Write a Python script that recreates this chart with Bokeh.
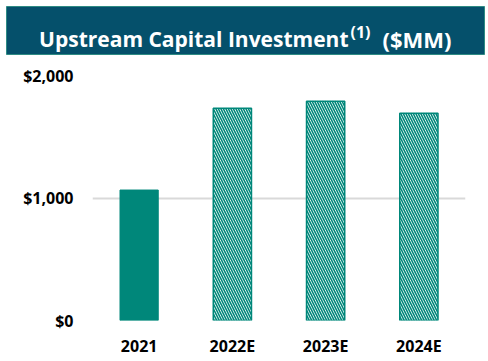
from bokeh.plotting import figure
from bokeh.layouts import column
from bokeh.models import ColumnDataSource, FixedTicker, NumeralTickFormatter
from bokeh.core.properties import value
from bokeh.embed import file_html
from bokeh.resources import INLINE

categories = ["2021", "2022E", "2023E", "2024E"]
values = [1065, 1732, 1789, 1691]
is_estimate = [False, True, True, True]
y_ticks = [0, 1000, 2000]
title_main = "Upstream Capital Investment"
title_note = "(1)"
title_unit = "($MM)"

TEAL = "#00877A"
NAVY = "#05506B"
FONT = "Open Sans"
W = 486

# ---- title strip (frame = whole canvas, 1 data unit = 1 px) ----
TH = 56
tp = figure(width=W, height=TH, x_range=(0, W), y_range=(TH, 0),
            output_backend="svg", toolbar_location=None,
            min_border=0, min_border_left=0, min_border_right=0,
            min_border_top=0, min_border_bottom=0)
tp.axis.visible = False
tp.grid.visible = False
tp.outline_line_color = None
tp.background_fill_color = "white"
tp.border_fill_color = "white"
tp.quad(left=[6], right=[484], top=[6], bottom=[54], fill_color=NAVY,
        line_color="#2E8B84", line_width=1)
tp.text(x=[348], y=[38], text=[title_main],
        text_font=value(FONT), text_font_style="bold", text_font_size="21px",
        text_color="white", text_baseline="alphabetic", text_align="right")
tp.text(x=[350], y=[31], text=[title_note],
        text_font=value(FONT), text_font_style="bold", text_font_size="16px",
        text_color="white", text_baseline="alphabetic", text_align="left")
tp.text(x=[382], y=[38], text=[title_unit],
        text_font=value(FONT), text_font_style="bold", text_font_size="22px",
        text_color="white", text_baseline="alphabetic", text_align="left")

# ---- chart ----
act = ColumnDataSource(dict(
    x=[c for c, e in zip(categories, is_estimate) if not e],
    top=[v for v, e in zip(values, is_estimate) if not e]))
est = ColumnDataSource(dict(
    x=[c for c, e in zip(categories, is_estimate) if e],
    top=[v for v, e in zip(values, is_estimate) if e]))

p = figure(x_range=categories, y_range=(0, 2000), width=W, height=303,
           output_backend="svg", toolbar_location=None,
           min_border_left=92, min_border_right=21,
           min_border_top=19, min_border_bottom=38)
p.outline_line_color = None

p.vbar(x="x", top="top", width=0.41, source=act, fill_color=TEAL,
       line_color=TEAL, line_width=1)
p.vbar(x="x", top="top", width=0.41, source=est, fill_color="white",
       hatch_pattern="\\", hatch_color=TEAL, hatch_scale=5, hatch_weight=1.6,
       line_color=TEAL, line_width=1.5)

p.xgrid.grid_line_color = None
p.ygrid.grid_line_color = "#D9D9D9"
p.ygrid.grid_line_width = 2
p.yaxis.ticker = FixedTicker(ticks=y_ticks)
p.yaxis.formatter = NumeralTickFormatter(format="$0,0")

for ax in (p.xaxis[0], p.yaxis[0]):
    ax.axis_line_color = None
    ax.major_tick_line_color = None
    ax.minor_tick_line_color = None
    ax.major_tick_out = 0
    ax.major_tick_in = 0
    ax.major_label_text_font = FONT
    ax.major_label_text_font_style = "bold"
    ax.major_label_text_font_size = "16px"
    ax.major_label_text_color = "black"
p.yaxis.major_label_standoff = 19
p.xaxis.major_label_standoff = 14

for f in (tp, p):
    if "frame_align" in f.properties():
        f.frame_align = False

layout = column(tp, p, spacing=0)
open("out.html", "w").write(file_html(layout, INLINE))
